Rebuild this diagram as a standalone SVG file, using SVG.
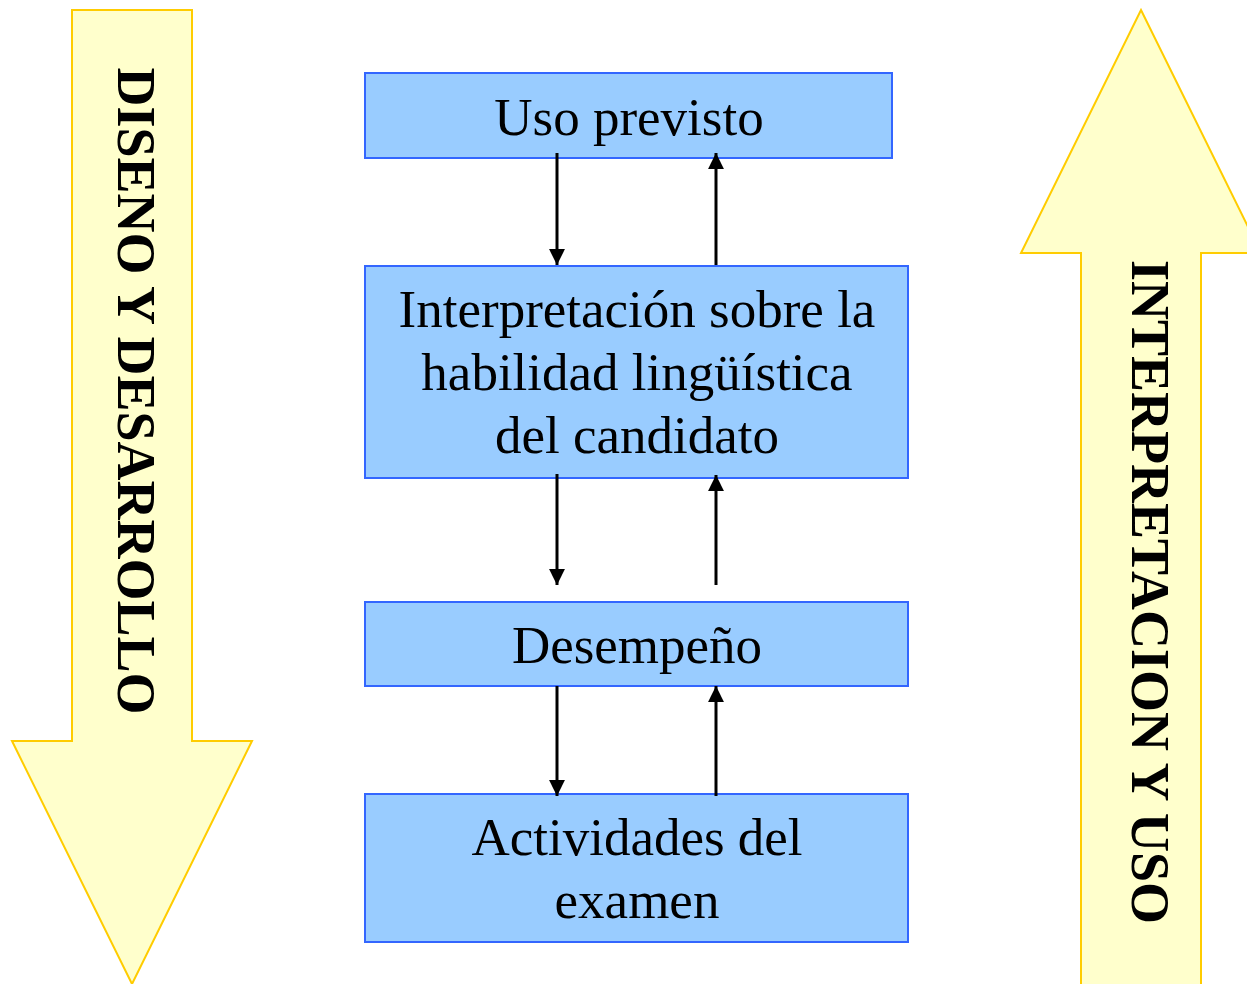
<svg xmlns="http://www.w3.org/2000/svg" width="1247" height="984" viewBox="0 0 1247 984">
<style>
.big{fill:#FFFFCC;stroke:#FFCC00;stroke-width:2}
.box{fill:#99CCFF;stroke:#3366FF;stroke-width:2}
.t{font-family:"Liberation Serif","Times New Roman",serif;font-size:53px;fill:#000;text-anchor:middle}
.vt{font-family:"Liberation Serif","Times New Roman",serif;font-size:54px;font-weight:bold;fill:#000;text-anchor:middle}
.c{stroke:#000;stroke-width:3;fill:none;marker-end:url(#ah)}
</style>
<defs>
<marker id="ah" markerWidth="5.3" markerHeight="5.3" viewBox="0 0 10 10" refX="10" refY="5" orient="auto" markerUnits="strokeWidth">
<path d="M0,0 L10,5 L0,10 z" fill="#000"/>
</marker>
</defs>
<g id="diseno">
<polygon class="big" points="72,10 192,10 192,741 252,741 132,984 12,741 72,741"/>
<text class="vt" transform="translate(118,391) rotate(90)">DISENO Y DESARROLLO</text>
</g>
<g id="interpretacion">
<polygon class="big" points="1141,10 1261,253 1201,253 1201,990 1081,990 1081,253 1021,253"/>
<text class="vt" transform="translate(1132,592) rotate(90)">INTERPRETACION Y USO</text>
</g>
<g id="uso">
<rect class="box" x="365" y="73" width="527" height="85"/>
<text class="t" x="629" y="135">Uso previsto</text>
</g>
<g id="interpretacion-habilidad">
<rect class="box" x="365" y="266" width="543" height="212"/>
<text class="t" x="637" y="327">Interpretación sobre la</text>
<text class="t" x="637" y="390">habilidad lingüística</text>
<text class="t" x="637" y="453">del candidato</text>
</g>
<g id="desempeno">
<rect class="box" x="365" y="602" width="543" height="84"/>
<text class="t" x="637" y="663">Desempeño</text>
</g>
<g id="actividades">
<rect class="box" x="365" y="794" width="543" height="148"/>
<text class="t" x="637" y="855">Actividades del</text>
<text class="t" x="637" y="918">examen</text>
</g>
<g id="connectors">
<line class="c" x1="557" y1="153" x2="557" y2="265"/>
<line class="c" x1="716" y1="265" x2="716" y2="153"/>
<line class="c" x1="557" y1="474" x2="557" y2="585"/>
<line class="c" x1="716" y1="585" x2="716" y2="475"/>
<line class="c" x1="557" y1="686" x2="557" y2="796"/>
<line class="c" x1="716" y1="796" x2="716" y2="686"/>
</g>
</svg>
